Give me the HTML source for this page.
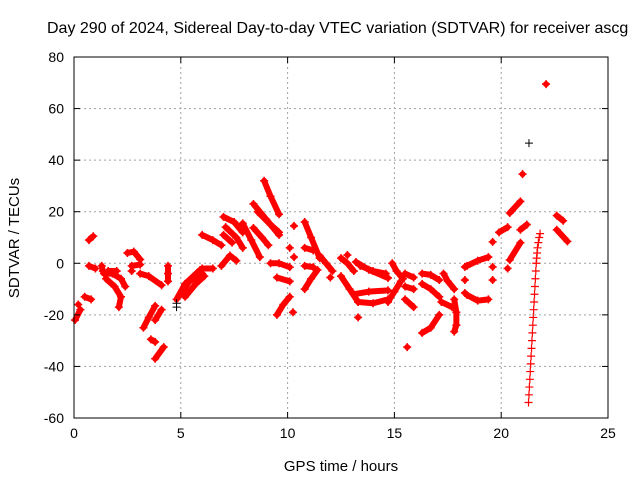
<!DOCTYPE html>
<html><head><meta charset="utf-8"><style>
body{margin:0;background:#fff;}
svg{display:block;font-family:"Liberation Sans",sans-serif;}
</style></head><body>
<svg id="chart" width="640" height="480">
<text x="47" y="33" font-size="16" text-anchor="start">Day 290 of 2024, Sidereal Day-to-day VTEC variation (SDTVAR) for receiver ascg</text>
<text x="341" y="471" font-size="15" text-anchor="middle">GPS time / hours</text>
<text transform="translate(19,238) rotate(-90)" font-size="15" text-anchor="middle">SDTVAR / TECUs</text>
<g id="grid"></g><g id="marks"></g><g id="axes"></g>
</svg>
<script>
const xTicks=[0,5,10,15,20,25];
const yTicks=[-60,-40,-20,0,20,40,60,80];
// red series: segments of [hour, value]
const redSegments=[
[[0.05,-22],[0.3,-18]],[[0.2,-16]],[[0.5,-13],[0.8,-14]],[[0.7,9],[0.9,10.5]],[[0.7,-1],[1.0,-2]],
[[1.3,-1],[1.35,-3]],
[[1.4,-4],[1.8,-4],[2.2,-6],[2.4,-9]],[[1.5,-6],[1.9,-9],[2.2,-13],[2.1,-17]],[[1.6,-3],[2.0,-3]],
[[2.5,4],[2.8,4.5],[3.1,1.5]],[[2.7,-1],[3.1,-0.5]],[[2.7,-3]],
[[3.1,-4],[3.5,-5],[4.1,-8.5]],
[[3.25,-25],[3.5,-21],[3.8,-16.5]],[[3.8,-22],[4.1,-18]],[[3.6,-29.5],[3.8,-30.5]],[[3.8,-37],[4.2,-32.5]],
[[4.4,-1],[4.4,-4],[4.4,-7]],
[[4.8,-14],[5.2,-8],[5.9,-2.6]],[[5.0,-12],[5.4,-7],[6.0,-4]],[[5.2,-13],[5.7,-8],[6.1,-5]],
[[6.0,-2],[6.5,-2]],
[[6.0,11],[6.5,9],[6.9,7]],
[[6.9,-1],[7.3,3],[7.6,1]],
[[7.0,18],[7.5,16],[7.9,12]],[[7.1,14],[7.6,10],[7.9,6]],[[7.0,11],[7.4,8]],
[[7.9,15.5],[8.3,9],[8.7,2.4]],
[[8.4,23],[9.0,17],[9.6,11]],[[8.6,20],[9.2,15],[9.6,12]],
[[8.9,32],[9.2,26],[9.6,19]],
[[8.4,13.7],[8.8,10],[9.1,7]],
[[10.3,14.5]],[[10.1,6]],[[10.3,2.4]],
[[9.2,0],[9.6,0],[10.1,-1.5]],
[[9.5,-5.5],[10.1,-7]],
[[9.5,-20],[9.8,-16],[10.1,-13]],[[10.25,-19]],
[[10.8,16],[11.1,10],[11.5,2]],[[10.8,6],[11.2,5]],
[[10.8,-1],[11.2,-1.5]],[[10.8,-10],[11.1,-6],[11.4,-2.6]],
[[11.5,3],[11.8,0],[12.1,-3]],[[12.0,-5.5]],
[[12.5,2],[12.8,0],[13.1,-3]],[[12.8,3.2]],
[[13.2,0.5],[13.8,-2.5],[14.7,-5.7]],[[13.4,-1],[14.0,-3],[14.6,-4]],
[[12.5,-5],[12.9,-10],[13.3,-15]],
[[13.1,-12],[13.8,-11],[14.7,-10.5]],[[13.3,-15],[14.0,-15.5],[14.7,-14]],
[[13.3,-21]],
[[14.9,0],[15.1,-3],[15.4,-6]],[[14.7,-15],[15.0,-11],[15.3,-7]],
[[15.5,-4],[15.9,-5.5]],[[15.5,-9],[15.9,-10]],[[15.5,-14],[15.9,-17]],[[15.6,-32.5]],
[[16.3,-4],[16.7,-4.5],[17.1,-6.5]],[[16.3,-8],[16.7,-10],[17.1,-13]],
[[16.3,-27],[16.7,-25],[17.1,-20]],
[[17.3,-4],[17.5,-7],[17.8,-10]],[[17.2,-15],[17.7,-17]],
[[17.8,-14],[17.9,-19],[17.9,-24],[17.8,-26.5]],
[[18.3,-1.4]],[[18.3,-6.5]],[[18.3,-11.5]],
[[18.4,-1],[18.9,1],[19.4,2.4]],[[18.4,-12.3],[18.9,-14.5],[19.4,-14]],
[[19.6,8.3]],[[19.6,-6.5]],[[19.6,-1.4]],
[[19.9,12],[20.3,14]],[[20.4,19.5],[20.9,24]],[[20.4,1.3],[20.9,8]],[[20.3,-2]],
[[20.9,13],[21.2,15]],[[21.0,34.6]],
[[22.1,69.5]],
[[22.6,18.5],[22.9,16.5]],[[22.6,13],[23.1,8.5]]
];
// sparse red pluses forming the near-vertical streak
const redStreak=[[21.28,-54],[21.3,-51],[21.32,-48],[21.34,-45],[21.36,-42],[21.38,-39],[21.4,-36],[21.42,-33],[21.44,-30],[21.46,-27],[21.48,-24],[21.5,-21],[21.52,-18],[21.54,-15],[21.56,-12],[21.58,-9],[21.6,-6],[21.62,-3],[21.64,0],[21.66,2],[21.68,4],[21.7,6],[21.74,8],[21.78,10],[21.82,11.5]];
const blackPoints=[[21.3,46.6],[4.8,-15.5],[4.8,-17]];

const NS='http://www.w3.org/2000/svg';
const L=74,R=608,T=57,B=418;
const xs=h=>L+(h-0)/25*(R-L);
const ys=v=>B-(v+60)/140*(B-T);
const grid=document.getElementById('grid'),marks=document.getElementById('marks'),axes=document.getElementById('axes');
function mk(tag,at,parent){const e=document.createElementNS(NS,tag);for(const k in at)e.setAttribute(k,at[k]);parent.appendChild(e);return e;}

xTicks.forEach(t=>{const x=xs(t);
 if(t>0&&t<25){const g=mk('line',{x1:x,y1:T,x2:x,y2:B,stroke:'#a0a0a0','stroke-dasharray':'2,3'},grid);
 
 }
 mk('line',{x1:x,y1:B,x2:x,y2:B-6,stroke:'#000'},axes);mk('line',{x1:x,y1:T,x2:x,y2:T+6,stroke:'#000'},axes);
 const tx=mk('text',{x:x,y:B+20,'font-size':14,'text-anchor':'middle'},axes);tx.textContent=t;
 
 
});
yTicks.forEach(t=>{const y=ys(t);
 if(t>-60&&t<80){const g=mk('line',{x1:L,y1:y,x2:R,y2:y,stroke:'#a0a0a0','stroke-dasharray':'2,3'},grid);
 
 }
 mk('line',{x1:L,y1:y,x2:L+6,y2:y,stroke:'#000'},axes);mk('line',{x1:R,y1:y,x2:R-6,y2:y,stroke:'#000'},axes);
 const tx=mk('text',{x:L-10,y:y+5,'font-size':14,'text-anchor':'end'},axes);tx.textContent=t;
 
 
});
const fr=mk('rect',{x:L,y:T,width:R-L,height:B-T,fill:'none',stroke:'#000'},axes);



function plus(h,v,col,parent,w){const x=xs(h),y=ys(v);
 mk('path',{d:`M${x-4},${y}H${x+4}M${x},${y-4}V${y+4}`,stroke:col,'stroke-width':w||1.2},parent);}
redSegments.forEach(seg=>{
 const g=mk('g',{},marks);
 
 
 if(seg.length>1){mk('polyline',{points:seg.map(p=>xs(p[0])+','+ys(p[1])).join(' '),fill:'none',stroke:'#f00','stroke-width':6,'stroke-linecap':'round','stroke-linejoin':'round'},g);}
 else{mk('circle',{cx:xs(seg[0][0]),cy:ys(seg[0][1]),r:3,fill:'#f00'},g);}
 seg.forEach(p=>plus(p[0],p[1],'#f00',g,1.6));
});
const sg=mk('g',{},marks);


redStreak.forEach(p=>plus(p[0],p[1],'#f00',sg,1.2));
blackPoints.forEach(p=>{const g=mk('g',{},marks);
 
 
 plus(p[0],p[1],'#000',g,1);});
</script>
</body></html>
